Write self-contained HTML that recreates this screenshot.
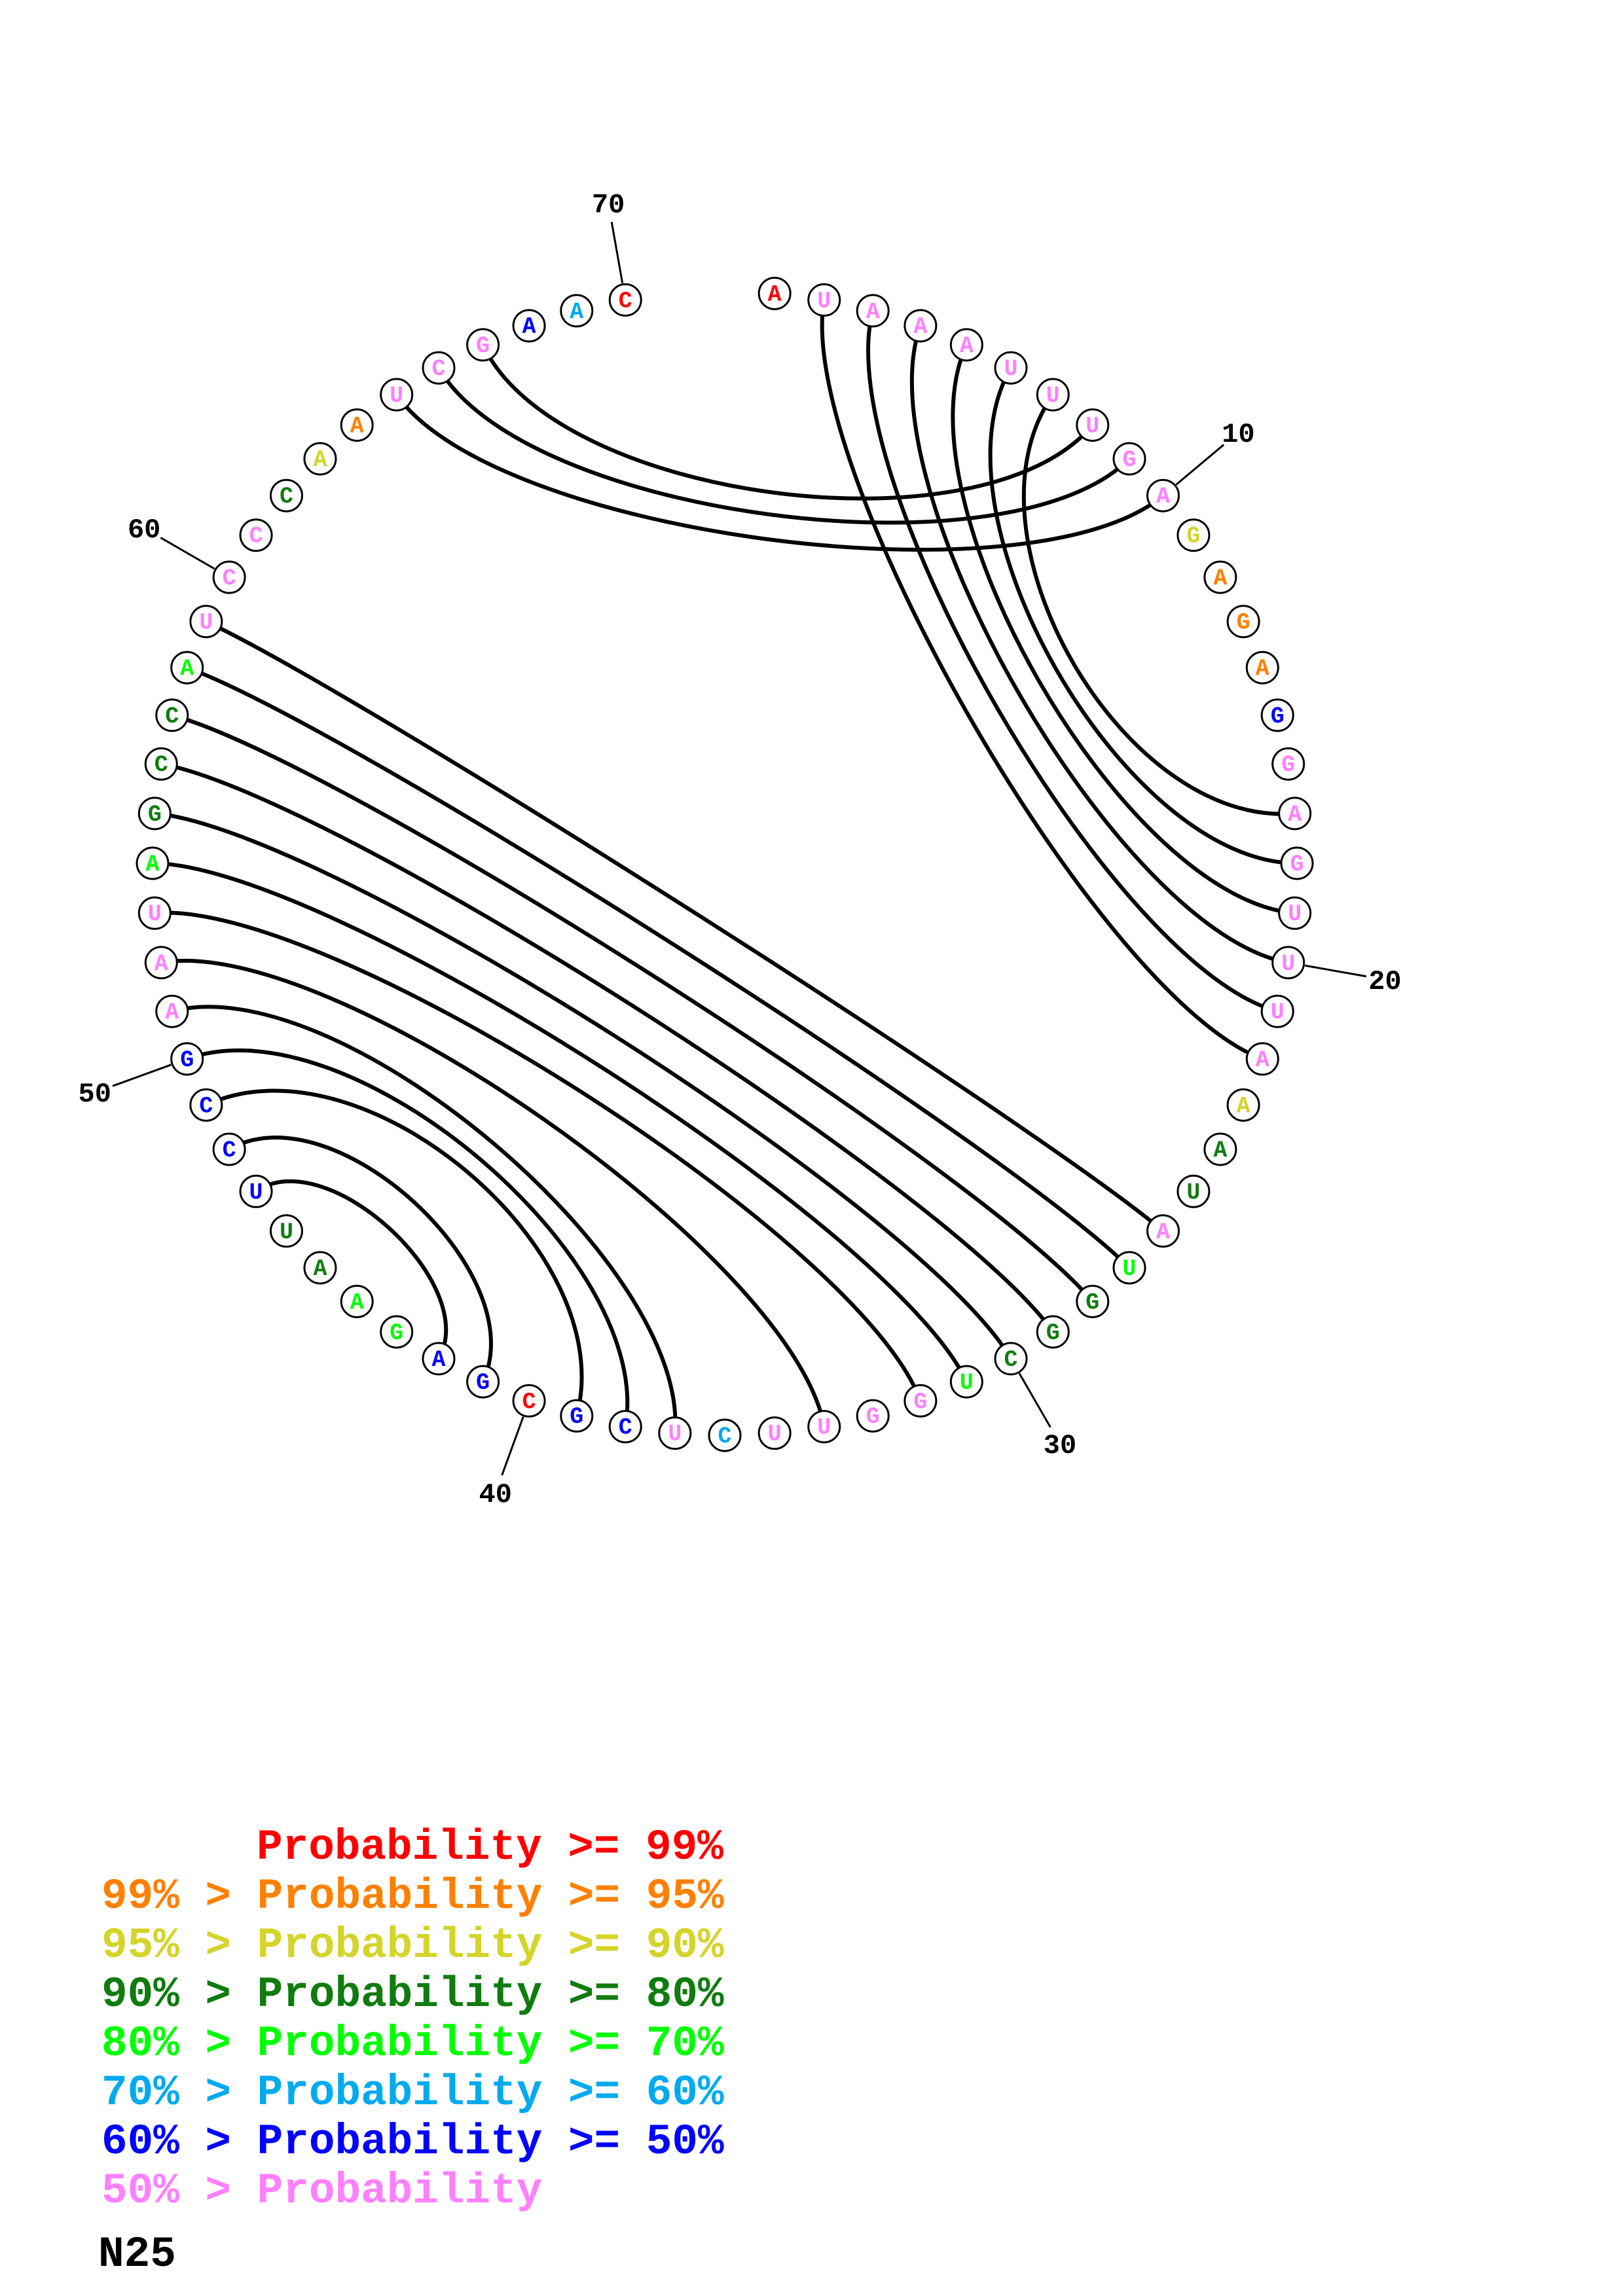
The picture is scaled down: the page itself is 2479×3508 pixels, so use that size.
<!DOCTYPE html>
<html><head><meta charset="utf-8">
<style>
html,body{margin:0;padding:0;background:#fff;}
#wrap{position:relative;width:2479px;height:3508px;overflow:hidden;}
svg{position:absolute;left:0;top:0;}
.lg{font-family:"Liberation Mono",monospace;font-weight:bold;font-size:66px;}
</style></head>
<body><div id="wrap">
<svg id="s" width="2479" height="3508" viewBox="0 0 2479 3508" xmlns="http://www.w3.org/2000/svg">
<g id="arcs" fill="none" stroke="#000" stroke-width="6"></g>
<g id="ticks" stroke="#000" stroke-width="3"></g>
<g id="nts"></g>
<g class="lg">
<text x="392" y="2840" fill="#ff0000">Probability &gt;= 99%</text>
<text x="155" y="2915" fill="#ff8000">99% &gt; Probability &gt;= 95%</text>
<text x="155" y="2990" fill="#d4d42a">95% &gt; Probability &gt;= 90%</text>
<text x="155" y="3065" fill="#107c10">90% &gt; Probability &gt;= 80%</text>
<text x="155" y="3140" fill="#00ff00">80% &gt; Probability &gt;= 70%</text>
<text x="155" y="3215" fill="#00aaee">70% &gt; Probability &gt;= 60%</text>
<text x="155" y="3290" fill="#0000ff">60% &gt; Probability &gt;= 50%</text>
<text x="155" y="3365" fill="#ff80ff">50% &gt; Probability</text>
<text x="150" y="3462" fill="#000">N25</text>
</g>
</svg>
</div>
<script>
var C={r:"#ff0000",o:"#ff8000",y:"#d4d42a",d:"#107c10",g:"#00ff00",c:"#00aaee",b:"#0000ff",p:"#ff80ff"};
var colArr=["r","p","p","p","p","p","p","p","p","p","y","o","o","o","b","p","p","p","p","p","p","p","y","d","d","p","g","d","d","d","g","p","p","p","p","c","p","b","b","r","b","b","g","g","d","d","b","b","b","b","p","p","p","g","d","d","d","g","p","p","p","d","y","o","p","p","p","b","c","r"];
var seqArr="A U A A A U U U G A G A G A G G A G U U U A A A U A U G G C U G G U U C U C G C G A G A A U U C C G A A U A G C C A U C C C A A U C G A A C".split(" ");
var cx=1107,cy=1319,R=874;
function pos(i,r){var a=5*i*Math.PI/180;r=r||R;return [cx+r*Math.sin(a),cy-r*Math.cos(a)];}
var pairs=[[2,22],[3,21],[4,20],[5,19],[6,18],[7,17],[8,67],[9,66],[10,65],[26,59],[27,58],[28,57],[29,56],[30,55],[31,54],[32,53],[34,52],[37,51],[38,50],[39,49],[41,48],[42,47]];
var h="";
pairs.forEach(function(p){var a=pos(p[0]),b=pos(p[1]);
var sep=Math.abs(p[1]-p[0])*5; if(sep>180) sep=360-sep;
var k=0.3*Math.min(1,sep/50);
var c1=[a[0]+k*(cx-a[0]),a[1]+k*(cy-a[1])],c2=[b[0]+k*(cx-b[0]),b[1]+k*(cy-b[1])];
h+='<path d="M'+a[0].toFixed(1)+' '+a[1].toFixed(1)+' C'+c1[0].toFixed(1)+' '+c1[1].toFixed(1)+' '+c2[0].toFixed(1)+' '+c2[1].toFixed(1)+' '+b[0].toFixed(1)+' '+b[1].toFixed(1)+'"/>';});
document.getElementById("arcs").innerHTML=h;
var t="";
for(var n=10;n<=70;n+=10){var a=pos(n,R+26),b=pos(n,R+121),l=pos(n,R+150);
t+='<line x1="'+a[0]+'" y1="'+a[1]+'" x2="'+b[0]+'" y2="'+b[1]+'"/>';
t+='<text x="'+l[0]+'" y="'+(l[1]+14)+'" text-anchor="middle" stroke="none" fill="#000" font-family="Liberation Mono, monospace" font-weight="bold" font-size="42">'+n+'</text>';}
document.getElementById("ticks").innerHTML=t;
var s="";
for(var i=1;i<=70;i++){var p=pos(i);
s+='<circle cx="'+p[0]+'" cy="'+p[1]+'" r="24" fill="#fff" stroke="#000" stroke-width="3"/>';
s+='<text x="'+p[0]+'" y="'+(p[1]+11)+'" text-anchor="middle" fill="'+C[colArr[i-1]]+'" font-family="Liberation Mono, monospace" font-weight="bold" font-size="35">'+seqArr[i-1]+'</text>';}
document.getElementById("nts").innerHTML=s;
</script>
</body></html>
